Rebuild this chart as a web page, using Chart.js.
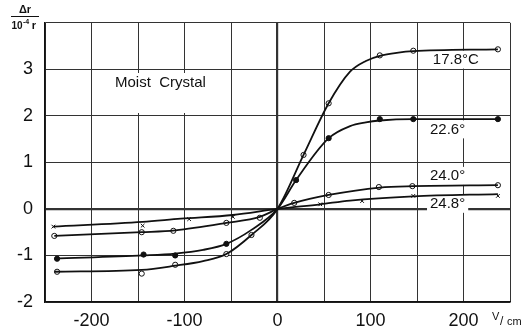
<!DOCTYPE html>
<html>
<head>
<meta charset="utf-8">
<script src="https://cdn.jsdelivr.net/npm/chart.js@4/dist/chart.umd.min.js"></script>
<style>
  html, body { margin: 0; padding: 0; background: #fff; }
</style>
</head>
<body>
<canvas id="chart" width="527" height="333"></canvas>
<script>
// Field strength (V/cm) and relative change of r (units of 1e-4)
const seriesLabels = ['17.8°C', '22.6°', '24.0°', '24.8°'];

// smooth curves as drawn
const curveX178 = [-240, -146, -110, -80, -55, -28, 0, 28, 55, 78, 95, 110, 130, 146, 237];
const curveY178 = [-1.35, -1.31, -1.22, -1.12, -0.97, -0.56, 0, 1.16, 2.27, 2.95, 3.18, 3.29, 3.36, 3.39, 3.43];
const curveX226 = [-240, -144, -110, -80, -55, -28, 0, 20, 55, 78, 95, 110, 146, 237];
const curveY226 = [-1.07, -1.0, -0.96, -0.88, -0.75, -0.45, 0, 0.62, 1.52, 1.78, 1.86, 1.9, 1.93, 1.93];
const curveX240 = [-240, -146, -110, -55, -19, 0, 18, 55, 110, 146, 237];
const curveY240 = [-0.58, -0.5, -0.46, -0.3, -0.17, 0, 0.13, 0.3, 0.46, 0.49, 0.51];
const curveX248 = [-241, -145, -104, -48, 0, 46, 78, 146, 237];
const curveY248 = [-0.38, -0.28, -0.21, -0.13, 0, 0.1, 0.18, 0.27, 0.32];

// measured points
const markX178 = [-237, -146, -110, -55, -28, 28, 55, 110, 146, 237];
const markY178 = [-1.35, -1.39, -1.2, -0.97, -0.56, 1.16, 2.27, 3.30, 3.40, 3.43];
const markX226 = [-237, -144, -110, -55, 20, 55, 110, 146, 237];
const markY226 = [-1.07, -0.98, -1.0, -0.75, 0.62, 1.52, 1.93, 1.93, 1.93];
const markX240 = [-240, -146, -112, -55, -19, 18, 55, 109, 145, 237];
const markY240 = [-0.58, -0.5, -0.47, -0.3, -0.19, 0.13, 0.3, 0.47, 0.49, 0.51];
const markX248 = [-241, -145, -95, -48, 46, 91, 146, 237];
const markY248 = [-0.38, -0.36, -0.22, -0.17, 0.1, 0.17, 0.28, 0.28];

// label anchor values (data coords)
const labelX = [167, 164, 164, 164];
const labelY = [3.21, 1.71, 0.71, 0.11];

function pts(xs, ys) {
    return xs.map((x, i) => ({ x: x, y: ys[i] }));
}

function curve(xs, ys) {
    return {
        data: pts(xs, ys),
        showLine: true,
        borderColor: '#111',
        borderWidth: 1.8,
        pointRadius: 0,
        cubicInterpolationMode: 'monotone'
    };
}

function marks(xs, ys, style, fill) {
    return {
        data: pts(xs, ys),
        showLine: false,
        pointStyle: style,
        pointRadius: 2.6,
        pointBorderWidth: 1,
        pointBorderColor: '#111',
        pointBackgroundColor: fill
    };
}

const font = "'Liberation Sans', 'DejaVu Sans', sans-serif";

// annotations: panel label, temperatures, axis unit and y title
const textPlugin = {
    id: 'texts',
    beforeDatasetsDraw(chart) {
        const ctx = chart.ctx;
        const xs = chart.scales.x, ys = chart.scales.y;
        ctx.save();
        // "Moist Crystal" box
        ctx.fillStyle = '#fff';
        ctx.fillRect(104, 73, 124, 40);
        ctx.fillStyle = '#111';
        ctx.font = '15px ' + font;
        ctx.textBaseline = 'middle';
        ctx.textAlign = 'left';
        ctx.fillText('Moist  Crystal', 115, 83);

        ctx.font = '15px ' + font;
        seriesLabels.forEach((t, i) => {
            const px = xs.getPixelForValue(labelX[i]);
            const py = ys.getPixelForValue(labelY[i]);
            const w = ctx.measureText(t).width;
            ctx.fillStyle = '#fff';
            ctx.fillRect(px - 3, py - 9, w + 6, 18);
            ctx.fillStyle = '#111';
            ctx.fillText(t, px, py);
        });
        ctx.restore();
    },
    afterDraw(chart) {
        const ctx = chart.ctx;
        ctx.save();
        ctx.fillStyle = '#111';
        ctx.strokeStyle = '#111';
        // unit after the x ticks
        ctx.textBaseline = 'alphabetic';
        ctx.textAlign = 'left';
        ctx.font = '11px ' + font;
        ctx.fillText('V', 492, 320);
        ctx.font = '12px ' + font;
        ctx.fillText('/', 500, 325);
        ctx.font = '11px ' + font;
        ctx.fillText('cm', 507, 325);
        // y title as a fraction
        ctx.textAlign = 'center';
        ctx.font = 'bold 11px ' + font;
        ctx.fillText('Δr', 25, 13);
        ctx.lineWidth = 1;
        ctx.beginPath();
        ctx.moveTo(11, 16.5);
        ctx.lineTo(39, 16.5);
        ctx.stroke();
        ctx.font = 'bold 10px ' + font;
        ctx.fillText('10', 17, 29);
        ctx.font = 'bold 7px ' + font;
        ctx.fillText('-4', 26, 24);
        ctx.font = 'bold 11px ' + font;
        ctx.fillText('r', 34, 29);
        ctx.restore();
    }
};

new Chart(document.getElementById('chart'), {
    type: 'scatter',
    data: {
        datasets: [
            curve(curveX178, curveY178),
            curve(curveX226, curveY226),
            curve(curveX240, curveY240),
            curve(curveX248, curveY248),
            marks(markX178, markY178, 'circle', '#fff'),
            marks(markX226, markY226, 'circle', '#111'),
            marks(markX240, markY240, 'circle', '#fff'),
            marks(markX248, markY248, 'crossRot', '#111')
        ]
    },
    options: {
        responsive: false,
        devicePixelRatio: 1,
        animation: false,
        layout: { padding: { top: 22, right: 17, left: 0, bottom: 0 } },
        plugins: { legend: { display: false }, tooltip: { enabled: false } },
        scales: {
            x: {
                type: 'linear',
                min: -250,
                max: 250,
                afterFit(scale) { scale.height = 31; },
                ticks: {
                    stepSize: 50,
                    padding: 8,
                    color: '#111',
                    font: { family: font, size: 18 },
                    maxRotation: 0,
                    autoSkip: false,
                    callback: v => (v % 100 === 0 && Math.abs(v) < 250 ? String(v) : '')
                },
                grid: {
                    drawTicks: false,
                    color: '#333',
                    lineWidth: c => (c.tick && c.tick.value === 0 ? 2.2 : 1)
                },
                border: { color: '#111', width: 1.5 }
            },
            y: {
                type: 'linear',
                min: -2,
                max: 4,
                afterFit(scale) { scale.width = 45; },
                ticks: {
                    stepSize: 1,
                    padding: 12,
                    color: '#111',
                    font: { family: font, size: 18 },
                    callback: v => (v < 4 ? String(v) : '')
                },
                grid: {
                    drawTicks: false,
                    color: '#333',
                    lineWidth: c => (c.tick && c.tick.value === 0 ? 2.2 : 1)
                },
                border: { color: '#111', width: 1.5 }
            }
        }
    },
    plugins: [textPlugin]
});
</script>
</body>
</html>
